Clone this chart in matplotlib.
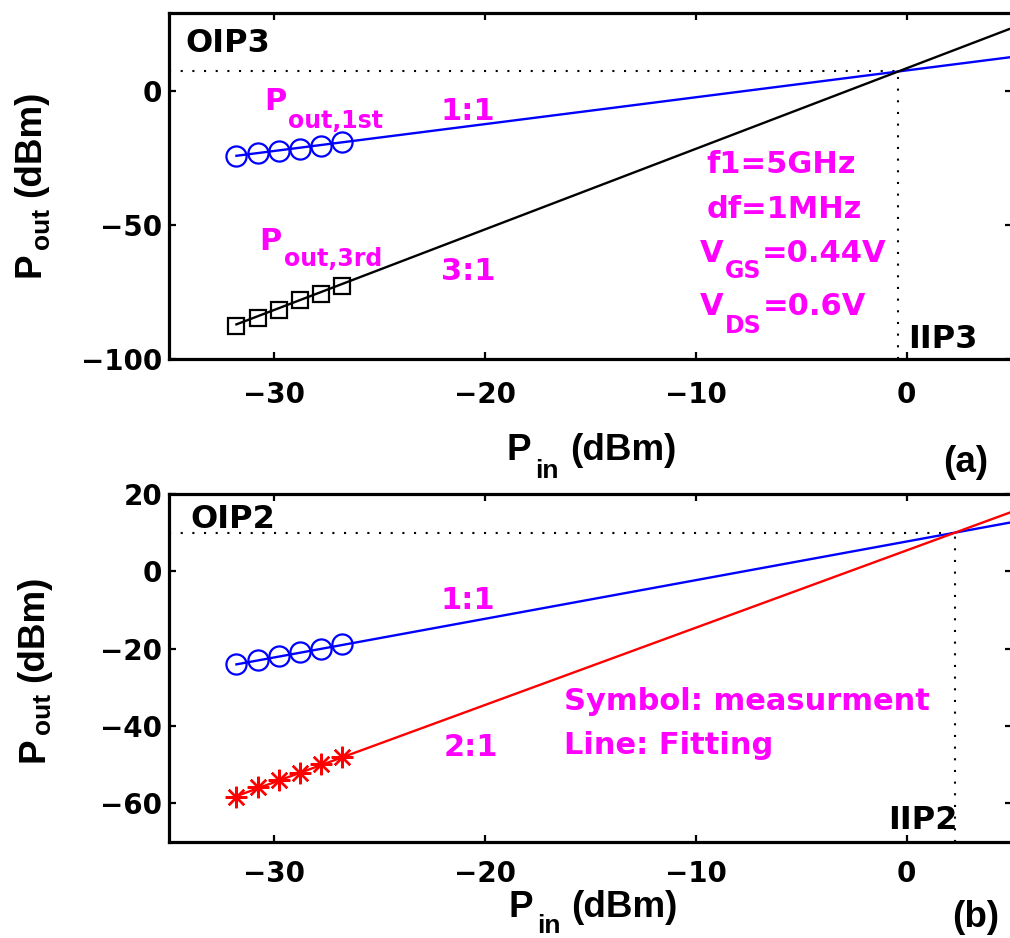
import matplotlib
matplotlib.use('Agg')
import matplotlib.pyplot as plt
import numpy as np

# ---------------- data ----------------
pin = [-31.8, -30.8, -29.8, -28.8, -27.8, -26.8]
p1_a = [-24.2, -23.3, -22.6, -21.7, -20.8, -19.2]
p3_a = [-87.6, -84.7, -81.6, -78.2, -75.8, -72.7]
p1_b = [-23.9, -22.9, -22.0, -20.9, -20.0, -18.8]
p2_b = [-58.5, -55.9, -54.1, -52.3, -50.0, -48.1]
iip3, oip3 = -0.4, 7.1
iip2, oip2 = 2.3, 10.0
xlim = (-35, 5)
ylim_a = (-100, 29)
ylim_b = (-70, 20)
xticks = [-30, -20, -10, 0]
yticks_a = [-100, -50, 0]
yticks_b = [-60, -40, -20, 0, 20]

MAG = '#FF00FF'
DJ = 'DejaVu Sans'
LIB = 'Liberation Sans'

fig = plt.figure(figsize=(10.10, 9.38), dpi=100)
W, H = 1010, 938
renderer = fig.canvas.get_renderer()


def seg_width(t, size, family):
    tmp = fig.text(0, 0, t, fontsize=size, family=family, fontweight='bold')
    w = tmp.get_window_extent(renderer).width
    tmp.remove()
    return w


def rich(x, y, segs, xycoords, family=DJ, color='black', rotation=0):
    """segs: list of (text, size, drop_px, gap_before_px)"""
    off = 0.0
    for t, s, d, g in segs:
        off += g
        if rotation == 0:
            dx, dy = off, -d
        else:
            dx, dy = d, off
        fig.axes[0].annotate(t, xy=(x, y), xycoords=xycoords, xytext=(dx, dy),
                             textcoords='offset pixels', ha='left', va='baseline',
                             rotation=rotation, rotation_mode='anchor',
                             fontsize=s, family=family, fontweight='bold',
                             color=color, annotation_clip=False)
        off += seg_width(t, s, family)


def setup(ax, ylim, yticks, xpad):
    ax.set_xlim(*xlim)
    ax.set_ylim(*ylim)
    ax.set_xticks(xticks)
    ax.set_yticks(yticks)
    for sp in ax.spines.values():
        sp.set_linewidth(2.3)
    ax.tick_params(direction='in', length=5, width=1.6, top=True, right=True,
                   labelsize=20)
    ax.tick_params(axis='x', pad=xpad)
    ax.tick_params(axis='y', pad=5)
    for lab in ax.get_xticklabels() + ax.get_yticklabels():
        lab.set_fontfamily(DJ)
        lab.set_fontweight('bold')


ax1 = fig.add_axes([169 / W, 1 - 359 / H, (1012 - 169) / W, (359 - 12.7) / H])
ax2 = fig.add_axes([169 / W, 1 - 841.7 / H, (1012 - 169) / W, (841.7 - 494) / H])
setup(ax1, ylim_a, yticks_a, 15.5)
setup(ax2, ylim_b, yticks_b, 13.5)

dot = (0, (1, 4.6))
xf = np.array([pin[0], xlim[1]])

# ---- top panel ----
ax1.plot([xlim[0], iip3], [oip3, oip3], color='black', lw=1.5, ls=dot)
ax1.plot([iip3, iip3], [ylim_a[0], oip3], color='black', lw=1.5, ls=dot)
ax1.plot(xf, oip3 + 1 * (xf - iip3), color='#0000FF', lw=1.7)
ax1.plot(xf, oip3 + 3 * (xf - iip3), color='black', lw=1.7)
ax1.plot(pin, p1_a, ls='none', marker='o', ms=14.5, mfc='none', mec='#0000FF', mew=1.6)
ax1.plot(pin, p3_a, ls='none', marker='s', ms=11.5, mfc='none', mec='black', mew=1.6)

# ---- bottom panel ----
ax2.plot([xlim[0], iip2], [oip2, oip2], color='black', lw=1.5, ls=dot)
ax2.plot([iip2, iip2], [ylim_b[0], oip2], color='black', lw=1.5, ls=dot)
ax2.plot(xf, oip2 + 1 * (xf - iip2), color='#0000FF', lw=1.7)
ax2.plot(xf, oip2 + 2 * (xf - iip2), color='#FF0000', lw=1.7)
ax2.plot(pin, p1_b, ls='none', marker='o', ms=14.5, mfc='none', mec='#0000FF', mew=1.6)
ax2.plot(pin, p2_b, ls='none', marker=(8, 2, 0), ms=15.5, mfc='none', mec='#FF0000', mew=1.7)

# ---- annotations top ----
ax1.text(-34.2, 14.5, 'OIP3', fontsize=23, family=DJ, fontweight='bold', va='baseline')
ax1.text(0.05, -95.9, 'IIP3', fontsize=23, family=DJ, fontweight='bold', va='baseline')
rich(-30.5, -7.2, [('P', 22, 0, 0), ('out,1st', 17, 17.7, 2)], ax1.transData, color=MAG)
ax1.text(-22.1, -10.9, '1:1', fontsize=22, family=DJ, fontweight='bold', va='baseline', color=MAG)
rich(-30.7, -59.3, [('P', 22, 0, 0), ('out,3rd', 17, 16.7, 2)], ax1.transData, color=MAG)
ax1.text(-22.1, -70.5, '3:1', fontsize=22, family=DJ, fontweight='bold', va='baseline', color=MAG)
ax1.text(-9.48, -30.75, 'f1=5GHz', fontsize=22, family=DJ, fontweight='bold', va='baseline', color=MAG)
ax1.text(-9.48, -47.4, 'df=1MHz', fontsize=22, family=DJ, fontweight='bold', va='baseline', color=MAG)
rich(-9.81, -63.7, [('V', 22, 0, 0), ('GS', 17, 16.7, 1), ('=0.44V', 22, 0, 1)], ax1.transData, color=MAG)
rich(-9.81, -83.5, [('V', 22, 0, 0), ('DS', 17, 18.3, 1), ('=0.6V', 22, 0, 1)], ax1.transData, color=MAG)

# ---- annotations bottom ----
ax2.text(-34.0, 11.2, 'OIP2', fontsize=23, family=DJ, fontweight='bold', va='baseline')
ax2.text(-0.86, -66.6, 'IIP2', fontsize=23, family=DJ, fontweight='bold', va='baseline')
rich(-30.03, -10.2, [('P', 22, 0, 0), ('out,1st', 17, 18.3, 2)], ax2.transData, color=MAG)
ax2.text(-22.1, -9.7, '1:1', fontsize=22, family=DJ, fontweight='bold', va='baseline', color=MAG)
rich(-30.27, -39.1, [('P', 22, 0, 0), ('out,2nd', 17, 19.3, 2)], ax2.transData, color=MAG)
ax2.text(-21.97, -47.9, '2:1', fontsize=22, family=DJ, fontweight='bold', va='baseline', color=MAG)
ax2.text(-16.25, -36.0, 'Symbol: measurment', fontsize=22, family=DJ, fontweight='bold', va='baseline', color=MAG)
ax2.text(-16.25, -47.4, 'Line: Fitting', fontsize=22, family=DJ, fontweight='bold', va='baseline', color=MAG)

# ---- axis labels (figure pixels) ----
LS, SS = 26.5, 19
rich(506.7, H - 460, [('P', LS, 0, 0), ('in', SS, 17.7, 4), ('(dBm)', LS, 0, 11)], 'figure pixels', family=LIB)
rich(508.3, H - 916.7, [('P', LS, 0, 0), ('in', SS, 16, 4), ('(dBm)', LS, 0, 11)], 'figure pixels', family=LIB)
rich(40, H - 276.7, [('P', LS, 0, 0), ('out', SS, 9, 3), ('(dBm)', LS, 0, 11)], 'figure pixels', family=LIB, rotation=90)
rich(43, H - 761.7, [('P', LS, 0, 0), ('out', SS, 7, 3), ('(dBm)', LS, 0, 11)], 'figure pixels', family=LIB, rotation=90)

fig.text(943 / W, 1 - 471.7 / H, '(a)', fontsize=26.5, family=LIB, fontweight='bold', va='baseline')
fig.text(951.7 / W, 1 - 926.7 / H, '(b)', fontsize=26.5, family=LIB, fontweight='bold', va='baseline')

fig.savefig('out.png', dpi=100)
